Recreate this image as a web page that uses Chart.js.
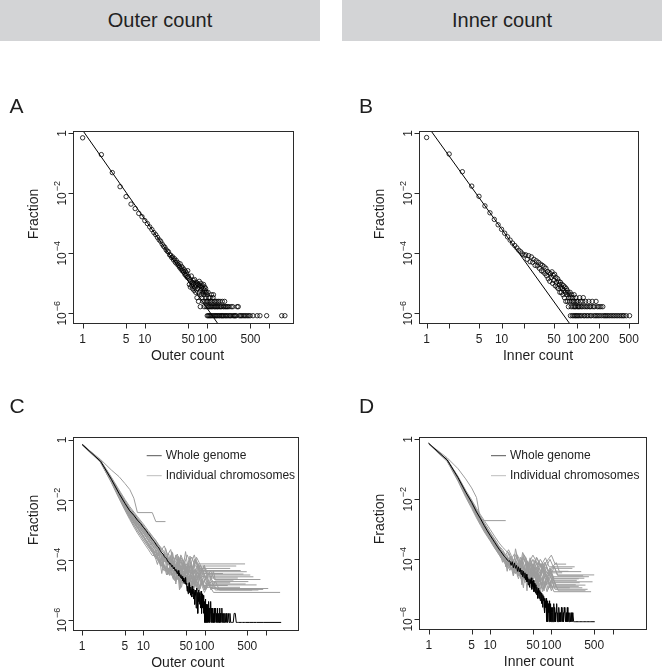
<!DOCTYPE html>
<html lang="en">
<head>
<meta charset="UTF-8">
<title>Outer and inner count distributions</title>
<script src="https://cdn.jsdelivr.net/npm/chart.js"></script>
<style>
  body {
    margin: 0;
    width: 662px;
    height: 668px;
    position: relative;
    overflow: hidden;
    background: #fff;
    font-family: "Liberation Sans", Arial, Helvetica, sans-serif;
  }
  .head {
    position: absolute;
    top: 0;
    width: 320px;
    height: 41px;
    line-height: 41px;
    background: #d3d4d6;
    color: #222;
    font-size: 20px;
    text-align: center;
  }
  canvas { position: absolute; }
</style>
</head>
<body>
<div class="head" style="left:0">Outer count</div>
<div class="head" style="left:342px">Inner count</div>
<canvas id="chartA" width="331" height="310" style="left:0;top:60px"></canvas>
<canvas id="chartB" width="331" height="310" style="left:331px;top:60px"></canvas>
<canvas id="chartC" width="331" height="288" style="left:0;top:380px"></canvas>
<canvas id="chartD" width="331" height="288" style="left:331px;top:380px"></canvas>

<script>
// whole genome, log10(fraction) for counts 1, 2, 3 ... (index + 1)
const outerHeadLog = [
  -0.15, -0.71, -1.31, -1.78, -2.11, -2.36, -2.51, -2.67, -2.78, -2.91,
  -3.01, -3.12, -3.21, -3.31, -3.38, -3.47, -3.55, -3.60, -3.69, -3.76,
  -3.80, -3.88, -3.93, -3.95, -4.05, -4.06, -4.14, -4.12, -4.22, -4.18,
  -4.30, -4.24, -4.36, -4.31, -4.40, -4.46, -4.35, -4.52, -4.44, -4.58,
  -4.49, -4.62, -4.55, -4.70, -4.60, -4.74, -4.66, -4.80, -4.58, -4.77
];
// tail: [outer count, number of sites]; one site = 10^-outerLogTotal
const outerLogTotal = 6.08;
const outerTail = [
  [51,18],[52,11],[53,16],[54,9],[55,14],[56,21],[57,10],[58,13],[59,8],[60,15],
  [61,12],[62,7],[63,16],[64,9],[65,11],[66,6],[67,13],[68,10],[69,4],[70,12],
  [71,8],[72,11],[73,3],[74,9],[75,14],[76,6],[77,10],[78,2],[79,7],[80,12],
  [81,5],[82,9],[83,4],[84,10],[85,6],[86,3],[87,8],[88,11],[89,5],[90,2],
  [91,7],[92,9],[93,3],[94,6],[95,8],[96,4],[97,2],[98,6],[99,3],[100,5],
  [101,1],[102,3],[103,2],[104,6],[105,1],[106,4],[107,2],[108,3],[109,1],[110,2],
  [112,4],[113,1],[114,3],[115,2],[117,1],[118,5],[119,2],[121,3],[122,1],[124,2],
  [125,4],[127,5],[128,1],[130,3],[131,2],[133,1],[135,2],[136,3],[138,1],[140,2],
  [142,1],[144,3],[146,2],[148,1],[150,2],[152,3],[155,1],[157,2],[160,1],[162,3],
  [165,2],[168,1],[170,2],[173,1],[176,3],[179,1],[182,2],[185,1],[188,2],[192,3],
  [195,1],[198,2],[202,1],[206,2],[210,1],[215,2],[220,1],[226,2],[232,1],[238,1],
  [245,2],[252,1],[260,2],[268,1],[276,1],[285,1],[295,1],[305,2],[318,2],[330,1],
  [345,1],[360,1],[380,1],[400,1],[420,1],[445,1],[470,1],[495,1],[550,1],[640,1],
  [710,1],[910,1],[1590,1],[1790,1]
];

const innerHeadLog = [
  -0.14, -0.69, -1.28, -1.76, -2.10, -2.42, -2.65, -2.87, -3.05, -3.20,
  -3.33, -3.45, -3.56, -3.66, -3.74, -3.82, -3.90, -3.95, -4.02, -4.06,
  -4.05, -4.20, -4.08, -4.28, -4.12, -4.30, -4.20, -4.40, -4.25, -4.42,
  -4.30, -4.50, -4.36, -4.58, -4.40, -4.62, -4.45, -4.68, -4.50, -4.75
];
const innerLogTotal = 6.08;
const innerTail = [
  [41,30],[42,17],[43,27],[44,14],[45,25],[46,19],[47,29],[48,12],[49,22],[50,15],
  [51,24],[52,10],[53,19],[54,13],[55,9],[56,17],[57,8],[58,14],[59,11],[60,6],
  [61,13],[62,9],[63,6],[64,11],[65,8],[66,5],[67,10],[68,7],[69,4],[70,9],
  [71,6],[72,3],[73,8],[74,5],[75,7],[76,3],[77,6],[78,2],[79,4],[80,5],
  [81,3],[82,6],[83,1],[84,4],[85,2],[86,5],[87,3],[88,1],[89,4],[90,2],
  [91,3],[92,1],[93,5],[94,2],[95,3],[96,1],[97,2],[98,4],[99,1],[100,3],
  [102,2],[103,1],[104,3],[106,2],[107,1],[109,2],[110,4],[112,1],[113,3],[115,2],
  [117,1],[119,2],[121,3],[123,4],[125,1],[127,2],[129,1],[132,3],[134,2],[137,1],
  [140,2],[143,1],[146,3],[149,2],[152,1],[155,2],[158,1],[162,3],[166,2],[170,1],
  [174,2],[178,1],[182,3],[186,1],[190,2],[195,1],[200,2],[205,1],[211,2],[217,1],
  [224,2],[231,1],[240,1],[250,1],[262,1],[275,1],[290,1],[305,1],[320,1],[338,1],
  [355,1],[375,1],[395,1],[415,1],[430,1],[460,1],[510,1]
];

// fitted power-law lines, end points where they cross the plot frame
const outerFitX = [1.02, 147];
const outerFitY = [1.19, 4.75e-7];
const innerFitX = [1.15, 80];
const innerFitY = [1.19, 4.75e-7];

// individual chromosomes, [count, log10(fraction)]
const outerChroms = [
  [[1,-0.14],[2,-0.69],[3,-1.26],[4,-1.72],[5,-2.05],[6,-2.3],[7,-2.47],[8,-2.6],[10,-2.86],[12,-3.08],[14,-3.22],[16,-3.35],[18,-3.53],[20,-3.65],[22,-3.53],[25,-3.83],[28,-3.65],[31,-4.13],[34,-3.83],[38,-4.13],[41,-3.83],[47,-4.13],[52,-3.83],[60,-4.13],[68,-3.83],[75,-4.13],[460,-4.13]],
  [[1,-0.16],[2,-0.72],[3,-1.33],[4,-1.8],[5,-2.14],[6,-2.4],[7,-2.58],[8,-2.74],[10,-3.0],[12,-3.2],[14,-3.42],[16,-3.55],[18,-3.68],[20,-3.8],[23,-3.98],[26,-3.8],[29,-4.28],[32,-3.98],[36,-3.8],[40,-4.28],[44,-3.98],[50,-4.28],[56,-3.98],[64,-4.28],[72,-3.98],[85,-4.28],[263,-4.28]],
  [[1,-0.15],[2,-0.7],[3,-1.28],[4,-1.74],[5,-2.08],[6,-2.33],[7,-2.5],[8,-2.65],[10,-2.92],[12,-3.15],[14,-3.3],[16,-3.45],[19,-3.62],[22,-3.79],[25,-3.91],[28,-4.09],[31,-3.91],[34,-4.09],[37,-4.39],[41,-3.91],[46,-4.09],[51,-4.39],[58,-4.09],[66,-4.39],[74,-3.91],[82,-4.09],[96,-4.39],[490,-4.39]],
  [[1,-0.14],[2,-0.71],[3,-1.35],[4,-1.85],[5,-2.2],[6,-2.47],[7,-2.66],[8,-2.82],[10,-3.1],[12,-3.32],[14,-3.5],[16,-3.66],[18,-3.87],[20,-3.99],[23,-3.87],[26,-4.17],[29,-3.99],[32,-4.17],[36,-4.47],[40,-3.99],[44,-4.17],[49,-4.47],[55,-4.17],[62,-4.47],[69,-3.99],[77,-4.17],[88,-4.47],[99,-4.17],[110,-4.47],[433,-4.47]],
  [[1,-0.15],[2,-0.7],[3,-1.3],[4,-1.76],[5,-2.1],[6,-2.36],[7,-2.53],[8,-2.69],[10,-2.95],[12,-3.19],[14,-3.38],[16,-3.52],[18,-3.66],[20,-3.76],[23,-3.9],[26,-3.96],[29,-4.08],[32,-4.26],[35,-4.08],[38,-4.26],[42,-4.56],[46,-4.08],[51,-4.26],[57,-4.56],[63,-4.26],[70,-3.96],[78,-4.26],[90,-4.56],[100,-4.26],[110,-4.56],[630,-4.56]],
  [[1,-0.16],[2,-0.73],[3,-1.36],[4,-1.84],[5,-2.2],[6,-2.46],[7,-2.65],[8,-2.8],[10,-3.08],[12,-3.33],[14,-3.52],[16,-3.7],[18,-3.88],[20,-4.05],[22,-4.19],[25,-4.37],[28,-4.19],[31,-4.37],[34,-4.67],[37,-4.19],[41,-4.37],[45,-4.07],[50,-4.37],[56,-4.67],[62,-4.37],[70,-4.67],[80,-4.19],[92,-4.37],[105,-4.67],[124,-4.67],[140,-4.37],[150,-4.67],[297,-4.67]],
  [[1,-0.15],[2,-0.71],[3,-1.32],[4,-1.8],[5,-2.15],[6,-2.41],[7,-2.6],[8,-2.76],[10,-3.02],[12,-3.25],[14,-3.44],[16,-3.6],[18,-3.74],[20,-3.86],[23,-4.02],[26,-4.16],[29,-4.28],[32,-4.46],[35,-4.28],[39,-4.46],[43,-4.76],[47,-4.28],[52,-4.46],[58,-4.16],[64,-4.46],[71,-4.76],[80,-4.46],[95,-4.76],[115,-4.46],[140,-4.76],[263,-4.76]],
  [[1,-0.14],[2,-0.69],[3,-1.27],[4,-1.7],[5,-2.02],[6,-2.27],[7,-2.44],[8,-2.6],[10,-2.86],[12,-3.08],[14,-3.27],[16,-3.42],[18,-3.55],[20,-3.68],[23,-3.84],[26,-3.98],[29,-4.1],[32,-4.23],[35,-4.35],[38,-4.53],[42,-4.35],[46,-4.53],[50,-4.83],[55,-4.35],[61,-4.53],[67,-4.83],[74,-4.35],[82,-4.53],[95,-4.83],[108,-4.53],[120,-4.83],[710,-4.83]],
  [[1,-0.16],[2,-0.72],[3,-1.34],[4,-1.82],[5,-2.18],[6,-2.45],[7,-2.64],[8,-2.8],[10,-3.1],[12,-3.36],[14,-3.58],[16,-3.78],[18,-3.95],[20,-4.1],[22,-4.2],[25,-4.31],[28,-4.43],[31,-4.61],[34,-4.43],[38,-4.61],[42,-4.91],[47,-4.43],[52,-4.61],[58,-4.91],[65,-4.61],[73,-4.91],[85,-4.43],[97,-4.61],[110,-4.91],[380,-4.91]],
  [[1,-0.15],[2,-0.7],[3,-1.3],[4,-1.76],[5,-2.1],[6,-2.36],[7,-2.54],[8,-2.7],[10,-2.97],[12,-3.2],[14,-3.4],[16,-3.57],[18,-3.71],[20,-3.83],[23,-3.98],[26,-4.1],[29,-4.22],[32,-4.3],[35,-4.38],[38,-4.5],[42,-4.58],[46,-4.68],[50,-4.5],[55,-4.68],[60,-4.98],[66,-4.5],[73,-4.68],[80,-4.98],[90,-4.68],[100,-4.98],[125,-4.68],[160,-4.98],[910,-4.98]],
  [[1,-0.15],[2,-0.71],[3,-1.31],[4,-1.77],[5,-2.12],[6,-2.38],[7,-2.56],[8,-2.72],[10,-2.99],[12,-3.22],[14,-3.42],[16,-3.58],[18,-3.73],[20,-3.86],[23,-4.02],[26,-4.15],[29,-4.28],[32,-4.38],[35,-4.48],[38,-4.6],[42,-4.68],[46,-4.78],[50,-4.6],[55,-4.78],[60,-5.08],[66,-4.6],[72,-4.78],[80,-5.08],[88,-4.78],[100,-5.08],[115,-4.78],[140,-5.08],[1720,-5.08]],
  [[1,-0.14],[2,-0.68],[3,-1.24],[4,-1.66],[5,-1.98],[6,-2.22],[7,-2.4],[8,-2.55],[10,-2.8],[12,-3.02],[14,-3.2],[16,-3.36],[18,-3.5],[20,-3.62],[23,-3.78],[26,-3.92],[29,-4.0],[32,-4.12],[35,-4.3],[38,-4.12],[42,-4.3],[46,-4.6],[50,-4.12],[56,-4.3],[62,-4.6],[70,-4.3],[78,-4.6],[90,-4.3],[105,-4.6],[350,-4.6]],
  [[1,-0.16],[2,-0.74],[3,-1.4],[4,-1.9],[5,-2.26],[6,-2.54],[7,-2.74],[8,-2.92],[10,-3.2],[12,-3.45],[14,-3.66],[16,-3.84],[18,-3.98],[20,-4.12],[22,-4.24],[25,-4.42],[28,-4.24],[31,-4.42],[34,-4.72],[38,-4.24],[42,-4.42],[47,-4.12],[52,-4.42],[58,-4.72],[64,-4.42],[72,-4.72],[82,-4.42],[96,-4.72],[118,-4.42],[135,-4.72],[520,-4.72]],
  [[1,-0.15],[2,-0.72],[3,-1.38],[4,-1.88],[5,-2.25],[6,-2.55],[7,-2.77],[8,-2.95],[10,-3.25],[12,-3.5],[14,-3.72],[16,-3.9],[18,-4.08],[20,-4.2],[22,-4.37],[25,-4.25],[28,-4.37],[31,-4.55],[34,-4.37],[37,-4.55],[41,-4.85],[45,-4.37],[50,-4.55],[56,-4.85],[62,-4.55],[70,-4.85],[80,-4.55],[93,-4.85],[240,-4.85]],
  [[1,-0.15],[2,-0.7],[3,-1.29],[4,-1.74],[5,-2.06],[6,-2.32],[7,-2.5],[8,-2.66],[10,-2.92],[12,-3.15],[14,-3.34],[16,-3.5],[18,-3.64],[20,-3.77],[23,-3.93],[26,-4.06],[29,-4.18],[32,-4.28],[35,-4.4],[38,-4.52],[42,-4.6],[46,-4.7],[50,-4.52],[55,-4.7],[60,-5.0],[67,-4.52],[74,-4.7],[82,-5.0],[92,-4.7],[104,-5.0],[130,-4.7],[150,-5.0],[600,-5.0]],
  [[1,-0.15],[2,-0.72],[3,-1.36],[4,-1.86],[5,-2.24],[6,-2.52],[7,-2.74],[8,-2.92],[9,-3.05],[10,-3.2],[11,-3.32],[12,-3.42],[13,-3.54],[14,-3.6],[15,-3.72],[16,-3.72],[17,-3.9],[18,-3.72],[20,-3.9],[21,-4.2],[23,-3.6],[25,-3.9],[27,-4.2],[29,-3.72],[31,-4.2],[34,-3.9],[37,-4.2],[40,-3.9],[45,-4.2],[49,-3.72],[53,-4.2],[62,-3.9],[70,-4.2],[330,-4.2]],
  [[1,-0.15],[2,-0.73],[3,-1.38],[4,-1.9],[5,-2.3],[6,-2.6],[7,-2.84],[8,-3.03],[9,-3.18],[10,-3.32],[11,-3.44],[12,-3.55],[13,-3.64],[14,-3.73],[15,-3.82],[16,-3.9],[17,-3.9],[18,-4.02],[19,-4.2],[20,-3.9],[21,-4.02],[22,-4.2],[24,-4.5],[25,-4.02],[27,-4.2],[29,-4.5],[30,-4.02],[33,-4.2],[35,-4.5],[37,-3.9],[40,-4.2],[43,-4.5],[45,-4.02],[48,-4.5],[52,-4.2],[55,-4.5],[60,-4.2],[66,-4.5],[75,-4.2],[84,-4.5],[97,-4.2],[120,-4.5],[560,-4.5]],
  [[1,-0.14],[2,-0.69],[3,-1.29],[4,-1.75],[5,-2.1],[6,-2.38],[7,-2.58],[8,-2.76],[9,-2.9],[10,-3.04],[11,-3.18],[12,-3.3],[13,-3.4],[14,-3.49],[15,-3.58],[16,-3.66],[17,-3.72],[18,-3.8],[19,-3.86],[20,-3.95],[21,-3.95],[22,-4.05],[24,-4.05],[25,-4.17],[26,-4.05],[28,-4.35],[29,-4.17],[31,-4.05],[33,-4.35],[35,-4.17],[37,-4.65],[39,-4.17],[42,-4.35],[45,-4.05],[48,-4.35],[51,-4.65],[54,-4.17],[58,-4.35],[63,-4.65],[68,-4.35],[76,-4.65],[85,-4.17],[95,-4.35],[108,-4.65],[125,-4.35],[145,-4.65],[820,-4.65]],
  [[1,-0.16],[2,-0.74],[3,-1.4],[4,-1.92],[5,-2.3],[6,-2.6],[7,-2.83],[8,-3.02],[9,-3.18],[10,-3.33],[11,-3.45],[12,-3.56],[13,-3.66],[14,-3.75],[15,-3.84],[16,-3.92],[17,-3.98],[18,-4.05],[19,-4.12],[20,-4.17],[22,-4.25],[24,-4.35],[26,-4.47],[27,-4.35],[29,-4.47],[31,-4.65],[32,-4.35],[34,-4.47],[36,-4.65],[38,-4.47],[40,-4.95],[42,-4.47],[45,-4.65],[48,-4.35],[51,-4.65],[55,-4.95],[58,-4.47],[62,-4.65],[67,-4.95],[72,-4.47],[78,-4.65],[85,-4.95],[92,-4.65],[102,-4.95],[115,-4.65],[132,-4.95],[1100,-4.95]],
  [[1,-0.15],[2,-0.7],[3,-1.3],[4,-1.78],[5,-2.14],[6,-2.43],[7,-2.66],[8,-2.86],[9,-3.02],[10,-3.18],[11,-3.33],[12,-3.46],[13,-3.58],[14,-3.68],[15,-3.78],[16,-3.87],[17,-3.95],[18,-4.02],[19,-4.1],[20,-4.2],[21,-4.2],[22,-4.32],[24,-4.2],[25,-4.5],[27,-4.32],[28,-4.2],[30,-4.5],[32,-4.32],[34,-4.8],[36,-4.32],[38,-4.5],[41,-4.2],[43,-4.5],[46,-4.8],[49,-4.32],[53,-4.5],[57,-4.8],[61,-4.5],[66,-4.8],[72,-4.32],[79,-4.5],[88,-4.8],[98,-4.5],[112,-4.8],[470,-4.8]],
  [[1,-0.14],[2,-0.7],[3,-1.33],[4,-1.83],[5,-2.2],[6,-2.5],[7,-2.72],[8,-2.9],[9,-3.06],[10,-3.2],[11,-3.34],[12,-3.46],[13,-3.57],[14,-3.67],[15,-3.75],[16,-3.75],[17,-3.87],[18,-3.75],[19,-4.05],[20,-3.87],[21,-4.05],[23,-4.35],[24,-3.87],[26,-4.05],[28,-4.35],[30,-3.75],[32,-4.05],[35,-4.35],[37,-3.87],[40,-4.05],[44,-4.35],[47,-4.05],[52,-4.35],[58,-3.87],[64,-4.35],[72,-4.05],[82,-4.35],[390,-4.35]],
  [[1,-0.15],[2,-0.7],[3,-1.31],[4,-1.8],[5,-2.17],[6,-2.46],[7,-2.7],[8,-2.9],[9,-3.07],[10,-3.22],[11,-3.36],[12,-3.48],[13,-3.59],[14,-3.69],[15,-3.78],[16,-3.86],[17,-3.93],[18,-4.0],[19,-4.06],[20,-4.12],[21,-4.22],[22,-4.22],[23,-4.3],[24,-4.4],[26,-4.3],[27,-4.52],[29,-4.4],[31,-4.52],[33,-4.7],[35,-4.4],[37,-4.52],[39,-5.0],[41,-4.52],[44,-4.7],[47,-4.4],[50,-4.7],[53,-5.0],[57,-4.52],[61,-4.7],[66,-5.0],[71,-4.7],[77,-5.0],[84,-4.52],[91,-4.7],[100,-5.0],[112,-4.7],[128,-5.0],[150,-4.7],[175,-5.0],[760,-5.0]],
  [[1,-0.16],[2,-0.75],[3,-1.42],[4,-1.95],[5,-2.34],[6,-2.65],[7,-2.9],[8,-3.1],[9,-3.26],[10,-3.4],[11,-3.53],[12,-3.64],[13,-3.75],[14,-3.85],[15,-3.85],[16,-3.97],[17,-4.15],[18,-3.97],[19,-4.15],[20,-4.45],[22,-3.97],[24,-4.15],[26,-4.45],[28,-3.85],[30,-4.15],[33,-4.45],[36,-3.97],[39,-4.15],[43,-4.45],[47,-4.15],[52,-4.45],[60,-4.15],[68,-4.45],[80,-4.15],[92,-4.45],[200,-4.45]],
  [[1,-0.15],[2,-0.65],[3,-1.0],[4,-1.22],[5,-1.45],[6,-1.65],[7,-1.94],[8,-2.42],[14,-2.42],[16,-2.72],[23,-2.72]]
];

const innerChroms = [
  [[1,-0.14],[2,-0.68],[3,-1.25],[4,-1.72],[5,-2.05],[6,-2.35],[7,-2.58],[8,-2.78],[10,-3.1],[12,-3.34],[14,-3.56],[16,-3.68],[18,-3.86],[20,-3.68],[22,-3.86],[25,-4.16],[28,-3.86],[32,-4.16],[36,-3.86],[42,-4.16],[50,-3.86],[60,-4.16],[78,-4.16],[100,-3.86],[115,-4.16],[174,-4.16]],
  [[1,-0.14],[2,-0.7],[3,-1.3],[4,-1.8],[5,-2.12],[6,-2.42],[7,-2.66],[8,-2.88],[10,-3.2],[12,-3.45],[14,-3.66],[16,-3.83],[18,-3.93],[20,-4.11],[22,-3.93],[25,-4.11],[28,-4.41],[31,-3.93],[35,-4.11],[39,-4.41],[44,-4.11],[50,-4.41],[57,-3.93],[64,-4.11],[72,-4.41],[80,-4.11],[89,-4.41],[120,-4.11],[135,-4.41],[307,-4.41]],
  [[1,-0.15],[2,-0.71],[3,-1.33],[4,-1.84],[5,-2.18],[6,-2.5],[7,-2.74],[8,-2.96],[10,-3.3],[12,-3.56],[14,-3.8],[16,-3.96],[18,-4.04],[20,-4.22],[22,-4.04],[25,-4.22],[28,-4.52],[31,-4.04],[34,-4.22],[38,-3.92],[42,-4.22],[47,-4.52],[53,-4.04],[59,-4.22],[66,-4.52],[74,-4.22],[89,-4.52],[110,-4.22],[125,-4.52],[500,-4.52]],
  [[1,-0.14],[2,-0.69],[3,-1.27],[4,-1.74],[5,-2.08],[6,-2.38],[7,-2.61],[8,-2.8],[10,-3.12],[12,-3.37],[14,-3.58],[16,-3.75],[18,-3.9],[20,-4.03],[22,-4.15],[25,-4.33],[28,-4.15],[31,-4.33],[34,-4.63],[38,-4.15],[42,-4.33],[46,-4.03],[51,-4.33],[57,-4.63],[63,-4.33],[70,-4.15],[78,-4.33],[83,-4.63],[96,-4.33],[110,-4.63],[345,-4.63]],
  [[1,-0.15],[2,-0.72],[3,-1.35],[4,-1.87],[5,-2.22],[6,-2.54],[7,-2.78],[8,-3.0],[10,-3.35],[12,-3.62],[14,-3.85],[16,-4.02],[18,-4.18],[20,-4.3],[22,-4.18],[25,-4.3],[28,-4.48],[31,-4.3],[34,-4.48],[37,-4.78],[41,-4.3],[45,-4.48],[50,-4.18],[55,-4.48],[61,-4.78],[68,-4.48],[78,-4.78],[92,-4.48],[105,-4.78],[290,-4.78]],
  [[1,-0.14],[2,-0.7],[3,-1.29],[4,-1.77],[5,-2.1],[6,-2.4],[7,-2.63],[8,-2.84],[10,-3.16],[12,-3.41],[14,-3.62],[16,-3.78],[18,-3.92],[20,-4.04],[23,-4.16],[26,-4.26],[29,-4.38],[32,-4.56],[35,-4.38],[38,-4.56],[42,-4.86],[46,-4.38],[51,-4.56],[56,-4.26],[62,-4.56],[69,-4.86],[76,-4.56],[84,-4.86],[96,-4.56],[110,-4.86],[360,-4.86]],
  [[1,-0.14],[2,-0.69],[3,-1.28],[4,-1.76],[5,-2.1],[6,-2.42],[7,-2.66],[8,-2.87],[10,-3.2],[12,-3.44],[14,-3.64],[16,-3.8],[18,-3.94],[20,-4.06],[23,-4.16],[26,-4.28],[29,-4.34],[32,-4.42],[35,-4.52],[38,-4.6],[42,-4.7],[46,-4.52],[50,-4.7],[55,-5.0],[60,-4.52],[66,-4.7],[72,-5.0],[80,-4.7],[89,-5.0],[100,-4.7],[115,-5.0],[390,-5.0]],
  [[1,-0.15],[2,-0.7],[3,-1.3],[4,-1.79],[5,-2.13],[6,-2.44],[7,-2.68],[8,-2.9],[10,-3.23],[12,-3.47],[14,-3.68],[16,-3.84],[18,-3.97],[20,-4.09],[23,-4.2],[26,-4.32],[29,-4.42],[32,-4.5],[35,-4.6],[38,-4.68],[42,-4.78],[46,-4.6],[50,-4.78],[55,-5.08],[60,-4.6],[66,-4.78],[72,-5.08],[78,-4.78],[85,-5.08],[95,-4.78],[110,-5.08],[445,-5.08]],
  [[1,-0.14],[2,-0.68],[3,-1.24],[4,-1.7],[5,-2.02],[6,-2.3],[7,-2.52],[8,-2.7],[10,-3.0],[12,-3.25],[14,-3.45],[16,-3.6],[18,-3.7],[20,-3.82],[22,-4.0],[25,-3.82],[28,-4.0],[31,-4.3],[35,-3.82],[39,-4.0],[44,-4.3],[50,-4.0],[57,-4.3],[66,-4.0],[80,-4.3],[95,-4.0],[110,-4.3],[220,-4.3]],
  [[1,-0.15],[2,-0.71],[3,-1.32],[4,-1.82],[5,-2.16],[6,-2.47],[7,-2.71],[8,-2.92],[10,-3.26],[12,-3.52],[14,-3.74],[16,-3.9],[18,-4.05],[20,-4.22],[22,-4.1],[25,-4.22],[28,-4.4],[31,-4.22],[34,-4.4],[37,-4.7],[41,-4.22],[45,-4.4],[50,-4.7],[56,-4.4],[63,-4.7],[71,-4.4],[82,-4.7],[96,-4.4],[108,-4.7],[260,-4.7]],
  [[1,-0.14],[2,-0.7],[3,-1.31],[4,-1.82],[5,-2.18],[6,-2.5],[7,-2.75],[8,-2.97],[10,-3.3],[12,-3.57],[14,-3.8],[16,-3.98],[18,-4.1],[20,-4.22],[23,-4.35],[26,-4.47],[29,-4.35],[32,-4.47],[35,-4.65],[38,-4.47],[42,-4.65],[46,-4.95],[51,-4.47],[56,-4.65],[62,-4.95],[70,-4.65],[78,-4.95],[88,-4.65],[100,-4.95],[200,-4.95]],
  [[1,-0.15],[2,-0.7],[3,-1.29],[4,-1.78],[5,-2.12],[6,-2.43],[7,-2.65],[8,-2.86],[10,-3.16],[12,-3.4],[14,-3.6],[16,-3.77],[18,-3.85],[20,-3.97],[22,-4.15],[25,-3.97],[28,-4.15],[31,-4.45],[35,-3.97],[39,-4.15],[44,-4.45],[50,-4.15],[58,-4.45],[66,-4.15],[78,-4.45],[150,-4.45]],
  [[1,-0.14],[2,-0.69],[3,-1.27],[4,-1.75],[5,-2.08],[6,-2.38],[7,-2.6],[8,-2.8],[10,-3.12],[12,-3.38],[14,-3.6],[16,-3.76],[18,-3.9],[20,-4.02],[23,-4.14],[26,-4.24],[29,-4.32],[32,-4.42],[35,-4.6],[38,-4.42],[42,-4.6],[46,-4.9],[51,-4.42],[56,-4.6],[62,-4.9],[70,-4.6],[78,-4.9],[90,-4.6],[102,-4.9],[280,-4.9]],
  [[1,-0.15],[2,-0.71],[3,-1.31],[4,-1.8],[5,-2.14],[6,-2.45],[7,-2.68],[8,-2.89],[10,-3.2],[12,-3.45],[14,-3.65],[16,-3.8],[18,-3.93],[20,-4.1],[22,-3.98],[25,-4.1],[28,-4.28],[31,-4.1],[34,-4.28],[37,-4.58],[41,-4.1],[45,-4.28],[50,-4.58],[56,-4.28],[63,-4.58],[71,-4.28],[80,-4.58],[95,-4.28],[105,-4.58],[410,-4.58]],
  [[1,-0.15],[2,-0.72],[3,-1.36],[4,-1.88],[5,-2.25],[6,-2.57],[7,-2.82],[8,-3.03],[9,-3.2],[10,-3.35],[11,-3.48],[12,-3.6],[13,-3.65],[14,-3.77],[15,-3.95],[16,-3.77],[17,-3.95],[18,-4.25],[20,-3.77],[22,-3.95],[24,-4.25],[26,-3.65],[28,-3.95],[31,-4.25],[34,-3.77],[37,-3.95],[41,-4.25],[45,-3.95],[50,-4.25],[58,-3.95],[66,-4.25],[80,-3.95],[92,-4.25],[240,-4.25]],
  [[1,-0.14],[2,-0.7],[3,-1.31],[4,-1.82],[5,-2.18],[6,-2.5],[7,-2.75],[8,-2.96],[9,-3.12],[10,-3.28],[11,-3.42],[12,-3.54],[13,-3.65],[14,-3.75],[15,-3.85],[16,-3.95],[17,-3.95],[18,-4.07],[19,-4.25],[20,-3.95],[21,-4.07],[23,-4.25],[24,-4.55],[26,-4.07],[28,-4.25],[30,-4.55],[32,-3.95],[35,-4.25],[38,-4.55],[41,-4.07],[44,-4.25],[48,-4.55],[52,-4.25],[57,-4.55],[62,-4.07],[68,-4.25],[75,-4.55],[84,-4.25],[96,-4.55],[112,-4.25],[128,-4.55],[330,-4.55]],
  [[1,-0.15],[2,-0.71],[3,-1.32],[4,-1.83],[5,-2.2],[6,-2.52],[7,-2.77],[8,-2.98],[9,-3.15],[10,-3.3],[11,-3.44],[12,-3.57],[13,-3.68],[14,-3.78],[15,-3.87],[16,-3.96],[17,-4.05],[18,-4.05],[19,-4.15],[20,-4.15],[21,-4.27],[23,-4.15],[24,-4.45],[26,-4.27],[27,-4.15],[29,-4.45],[31,-4.27],[33,-4.75],[35,-4.27],[37,-4.45],[40,-4.15],[42,-4.45],[45,-4.75],[48,-4.27],[52,-4.45],[56,-4.75],[60,-4.45],[65,-4.75],[71,-4.27],[78,-4.45],[86,-4.75],[96,-4.45],[110,-4.75],[470,-4.75]],
  [[1,-0.14],[2,-0.69],[3,-1.28],[4,-1.77],[5,-2.12],[6,-2.43],[7,-2.68],[8,-2.89],[9,-3.06],[10,-3.22],[11,-3.36],[12,-3.49],[13,-3.6],[14,-3.7],[15,-3.79],[16,-3.87],[17,-3.95],[18,-4.02],[19,-4.08],[20,-4.15],[21,-4.2],[22,-4.27],[23,-4.27],[24,-4.35],[26,-4.45],[27,-4.35],[28,-4.57],[30,-4.45],[32,-4.57],[34,-4.75],[36,-4.45],[38,-4.57],[40,-5.05],[42,-4.57],[45,-4.75],[48,-4.45],[51,-4.75],[54,-5.05],[57,-4.57],[61,-4.75],[65,-5.05],[70,-4.75],[76,-5.05],[83,-4.57],[90,-4.75],[100,-5.05],[112,-4.75],[130,-5.05],[360,-5.05]],
  [[1,-0.16],[2,-0.74],[3,-1.4],[4,-1.93],[5,-2.3],[6,-2.62],[7,-2.87],[8,-3.08],[9,-3.24],[10,-3.38],[11,-3.52],[12,-3.64],[13,-3.74],[14,-3.8],[15,-3.92],[16,-4.1],[17,-3.92],[18,-4.1],[19,-4.4],[21,-3.92],[23,-4.1],[25,-4.4],[27,-3.8],[29,-4.1],[32,-4.4],[35,-3.92],[38,-4.1],[42,-4.4],[46,-4.1],[51,-4.4],[58,-4.1],[66,-4.4],[78,-4.1],[88,-4.4],[190,-4.4]],
  [[1,-0.15],[2,-0.72],[3,-1.34],[4,-1.86],[5,-2.24],[6,-2.56],[7,-2.82],[8,-3.03],[9,-3.2],[10,-3.36],[11,-3.5],[12,-3.63],[13,-3.74],[14,-3.84],[15,-3.93],[16,-4.01],[17,-4.07],[18,-4.15],[19,-4.25],[20,-4.25],[21,-4.37],[22,-4.25],[24,-4.55],[25,-4.37],[27,-4.25],[29,-4.55],[31,-4.37],[33,-4.85],[35,-4.37],[38,-4.55],[41,-4.25],[44,-4.55],[47,-4.85],[50,-4.37],[54,-4.55],[58,-4.85],[63,-4.55],[69,-4.85],[76,-4.37],[84,-4.55],[93,-4.85],[104,-4.55],[118,-4.85],[250,-4.85]],
  [[1,-0.14],[2,-0.69],[3,-1.27],[4,-1.74],[5,-2.08],[6,-2.37],[7,-2.6],[8,-2.8],[9,-2.97],[10,-3.12],[11,-3.26],[12,-3.38],[13,-3.5],[14,-3.6],[15,-3.69],[16,-3.77],[17,-3.85],[18,-3.95],[19,-3.95],[20,-4.05],[21,-4.17],[22,-4.05],[24,-4.17],[25,-4.35],[27,-4.05],[28,-4.17],[30,-4.35],[32,-4.65],[34,-4.17],[36,-4.35],[39,-4.05],[41,-4.35],[44,-4.65],[47,-4.17],[51,-4.35],[55,-4.65],[59,-4.35],[64,-4.65],[70,-4.17],[77,-4.35],[85,-4.65],[95,-4.35],[108,-4.65],[280,-4.65]],
  [[1,-0.15],[2,-0.7],[3,-1.3],[4,-1.8],[5,-2.16],[6,-2.47],[7,-2.72],[8,-2.93],[9,-3.1],[10,-3.26],[11,-3.4],[12,-3.53],[13,-3.64],[14,-3.74],[15,-3.83],[16,-3.91],[17,-3.99],[18,-4.06],[19,-4.12],[20,-4.17],[21,-4.25],[22,-4.35],[23,-4.25],[24,-4.35],[26,-4.47],[27,-4.35],[29,-4.65],[31,-4.47],[33,-4.65],[35,-4.95],[37,-4.47],[39,-4.65],[42,-4.35],[45,-4.65],[48,-4.95],[51,-4.47],[55,-4.65],[59,-4.95],[64,-4.65],[70,-4.95],[77,-4.47],[85,-4.65],[94,-4.95],[106,-4.65],[120,-4.95],[320,-4.95]],
  [[1,-0.14],[2,-0.62],[3,-0.98],[4,-1.32],[5,-1.62],[6,-1.94],[7,-2.71],[18,-2.71]]
];

// axis ticks
const yTickVals = [1, 1e-2, 1e-4, 1e-6];
const yTickExp = [0, -2, -4, -6];
const xTicksMain = [1, 5, 10, 50, 100, 500, 1000];
const xLabelsMain = ['1', '5', '10', '50', '100', '500', ''];
const xTicksInnerB = [1, 2, 5, 10, 20, 50, 100, 200, 500];
const xLabelsInnerB = ['1', '', '5', '10', '', '50', '100', '200', '500'];

const FONT = '"Liberation Sans", Arial, Helvetica, sans-serif';

function genome(headLog, tail, logTotal) {
  const pts = headLog.map((v, i) => ({ x: i + 1, y: Math.pow(10, v) }));
  tail.forEach(t => pts.push({ x: t[0], y: t[1] / Math.pow(10, logTotal) }));
  return pts;
}
const toPts = arr => arr.map(p => ({ x: p[0], y: Math.pow(10, p[1]) }));

function drawYTick(ctx, x, y, exp) {
  ctx.save();
  ctx.translate(x, y);
  ctx.rotate(-Math.PI / 2);
  ctx.textBaseline = 'alphabetic';
  ctx.font = '12px ' + FONT;
  if (exp === 0) {
    ctx.textAlign = 'center';
    ctx.fillText('1', 0, 0);
  } else {
    const sup = '\u2212' + (-exp);
    const w1 = ctx.measureText('10').width;
    ctx.font = '9px ' + FONT;
    const w2 = ctx.measureText(sup).width;
    const start = -(w1 + w2 + 1) / 2;
    ctx.textAlign = 'left';
    ctx.font = '12px ' + FONT;
    ctx.fillText('10', start, 0);
    ctx.font = '9px ' + FONT;
    ctx.fillText(sup, start + w1 + 1, -6);
  }
  ctx.restore();
}

// base-R style frame, ticks, labels, panel letter and legend
const rFrame = {
  id: 'rframe',
  afterDraw(chart, args, o) {
    const ctx = chart.ctx;
    const a = chart.chartArea;
    const xs = chart.scales.x, ys = chart.scales.y;
    const L = Math.round(a.left) + 0.5, R = Math.round(a.right) + 0.5;
    const T = Math.round(a.top) + 0.5, B = Math.round(a.bottom) + 0.5;
    ctx.save();
    ctx.strokeStyle = '#2b2b2b';
    ctx.lineWidth = 1;
    ctx.strokeRect(L, T, R - L, B - T);
    ctx.beginPath();
    o.xTicks.forEach(v => {
      const px = Math.round(xs.getPixelForValue(v)) + 0.5;
      ctx.moveTo(px, B); ctx.lineTo(px, B + 5);
    });
    yTickVals.forEach(v => {
      const py = Math.round(ys.getPixelForValue(v)) + 0.5;
      ctx.moveTo(L, py); ctx.lineTo(L - 5, py);
    });
    ctx.stroke();

    ctx.fillStyle = '#1e1e1e';
    ctx.font = '12px ' + FONT;
    ctx.textAlign = 'center';
    ctx.textBaseline = 'alphabetic';
    o.xTicks.forEach((v, i) => {
      if (o.xLabels[i]) ctx.fillText(o.xLabels[i], xs.getPixelForValue(v), a.bottom + 20);
    });
    yTickVals.forEach((v, i) => drawYTick(ctx, a.left - 7, ys.getPixelForValue(v), yTickExp[i]));

    ctx.font = '14px ' + FONT;
    ctx.textAlign = 'center';
    ctx.fillText(o.xTitle, o.xTitleX, a.bottom + 36.5);
    ctx.save();
    ctx.translate(o.yTitleX, o.yTitleY);
    ctx.rotate(-Math.PI / 2);
    ctx.fillText('Fraction', 0, 0);
    ctx.restore();

    ctx.font = '21px ' + FONT;
    ctx.textAlign = 'left';
    ctx.fillText(o.letter, o.letterX, o.letterY);

    if (o.legend) {
      const lg = o.legend;
      ctx.lineWidth = 1;
      ctx.strokeStyle = '#555';
      ctx.beginPath(); ctx.moveTo(lg.x, lg.y1); ctx.lineTo(lg.x + 15, lg.y1); ctx.stroke();
      ctx.strokeStyle = '#bdbdbd';
      ctx.beginPath(); ctx.moveTo(lg.x, lg.y2); ctx.lineTo(lg.x + 15, lg.y2); ctx.stroke();
      ctx.font = '12px ' + FONT;
      ctx.textBaseline = 'middle';
      ctx.fillStyle = '#222';
      ctx.fillText('Whole genome', lg.x + 19, lg.y1);
      ctx.fillText('Individual chromosomes', lg.x + 19, lg.y2);
    }
    ctx.restore();
  }
};

function makeChart(id, datasets, pad, xr, yr, frame) {
  return new Chart(document.getElementById(id), {
    type: 'scatter',
    data: { datasets: datasets },
    options: {
      responsive: false,
      animation: false,
      devicePixelRatio: 1,
      events: [],
      layout: { padding: pad },
      plugins: { legend: { display: false }, tooltip: { enabled: false }, rframe: frame },
      scales: {
        x: { type: 'logarithmic', min: xr[0], max: xr[1], display: false },
        y: { type: 'logarithmic', min: yr[0], max: yr[1], display: false }
      }
    },
    plugins: [rFrame]
  });
}

const pointStyle = {
  pointRadius: 2.2,
  pointBorderWidth: 0.8,
  pointBorderColor: '#000',
  pointBackgroundColor: 'rgba(0,0,0,0)',
  showLine: false
};
const fitStyle = { showLine: true, pointRadius: 0, borderColor: '#000', borderWidth: 1 };
const lineStyle = (color) => ({ showLine: true, pointRadius: 0, borderColor: color, borderWidth: 1, tension: 0 });
const CHROM_GREY = '#9c9c9c';

const outerGenome = genome(outerHeadLog, outerTail, outerLogTotal);
const innerGenome = genome(innerHeadLog, innerTail, innerLogTotal);

// A
makeChart('chartA', [
  Object.assign({ data: outerFitX.map((x, i) => ({ x: x, y: outerFitY[i] })) }, fitStyle),
  Object.assign({ data: outerGenome }, pointStyle)
], { left: 73, top: 71, right: 38, bottom: 47 },
  [Math.pow(10, -0.13), Math.pow(10, 3.383)], [Math.pow(10, -6.323), Math.pow(10, 0.077)],
  { xTicks: xTicksMain, xLabels: xLabelsMain, xTitle: 'Outer count', xTitleX: 187.5,
    yTitleX: 38, yTitleY: 154, letter: 'A', letterX: 9.5, letterY: 52.5 });

// B
makeChart('chartB', [
  Object.assign({ data: innerFitX.map((x, i) => ({ x: x, y: innerFitY[i] })) }, fitStyle),
  Object.assign({ data: innerGenome }, pointStyle)
], { left: 87.5, top: 71, right: 24.3, bottom: 47 },
  [Math.pow(10, -0.108), Math.pow(10, 2.816)], [Math.pow(10, -6.323), Math.pow(10, 0.077)],
  { xTicks: xTicksInnerB, xLabels: xLabelsInnerB, xTitle: 'Inner count', xTitleX: 207,
    yTitleX: 53, yTitleY: 154, letter: 'B', letterX: 28, letterY: 52.5 });

// C
makeChart('chartC', [Object.assign({ data: outerGenome }, lineStyle('#000'))]
  .concat(outerChroms.map(c => Object.assign({ data: toPts(c) }, lineStyle(CHROM_GREY)))),
  { left: 72.7, top: 57.3, right: 32.7, bottom: 38 },
  [Math.pow(10, -0.147), Math.pow(10, 3.533)], [Math.pow(10, -6.333), Math.pow(10, 0.09)],
  { xTicks: xTicksMain, xLabels: xLabelsMain, xTitle: 'Outer count', xTitleX: 187.8,
    yTitleX: 38, yTitleY: 140, letter: 'C', letterX: 9.5, letterY: 32.5,
    legend: { x: 146.7, y1: 75.7, y2: 95.7 } });

// D
makeChart('chartD', [Object.assign({ data: innerGenome }, lineStyle('#000'))]
  .concat(innerChroms.map(c => Object.assign({ data: toPts(c) }, lineStyle(CHROM_GREY)))),
  { left: 88.3, top: 56.7, right: 16, bottom: 38.7 },
  [Math.pow(10, -0.13), Math.pow(10, 3.544)], [Math.pow(10, -6.333), Math.pow(10, 0.087)],
  { xTicks: xTicksMain, xLabels: xLabelsMain, xTitle: 'Inner count', xTitleX: 207.8,
    yTitleX: 53, yTitleY: 139, letter: 'D', letterX: 28, letterY: 32.5,
    legend: { x: 160, y1: 75.7, y2: 95.7 } });
</script>
</body>
</html>
